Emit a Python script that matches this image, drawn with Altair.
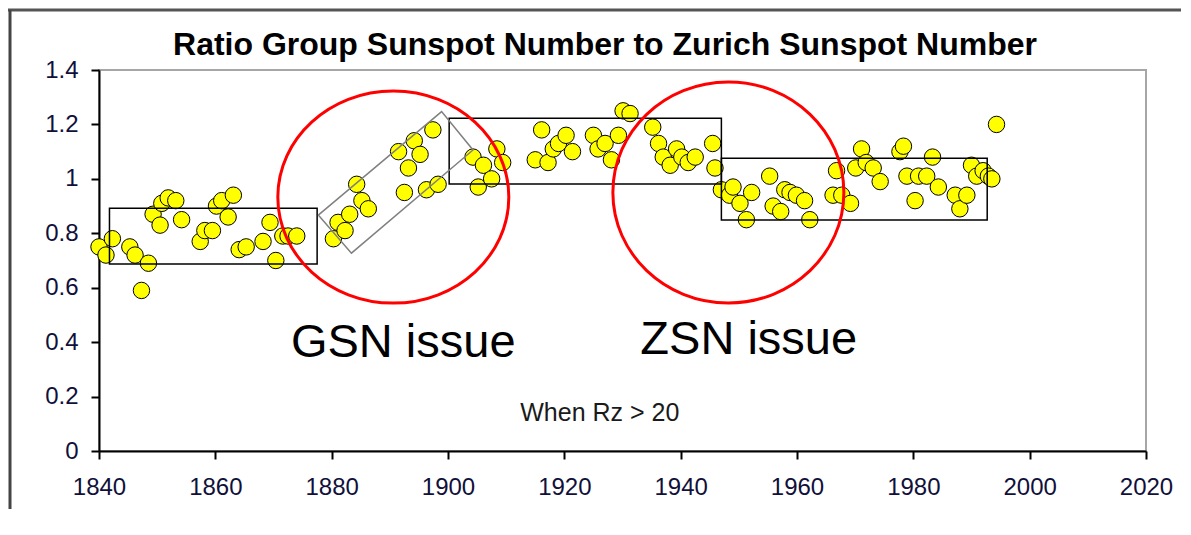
import altair as alt
import pandas as pd

# ---- data ----
years = [1840.0, 1841.2, 1842.3, 1845.3, 1846.2, 1847.3, 1848.5, 1849.3, 1850.5, 1850.8,
         1851.9, 1853.2, 1854.2, 1857.4, 1858.2, 1859.5, 1860.2, 1861.1, 1862.2, 1863.1,
         1864.1, 1865.3, 1868.2, 1869.4, 1870.4, 1871.6, 1872.5, 1874.0,
         1880.3, 1881.1, 1882.3, 1883.1, 1884.3, 1885.2, 1886.3,
         1891.5, 1892.5, 1893.2, 1894.2, 1895.2, 1896.3, 1897.4, 1898.3,
         1904.3, 1905.2, 1906.1, 1907.5, 1908.4, 1909.4,
         1915.0, 1916.1, 1917.2, 1918.1, 1919.0, 1920.3, 1921.4,
         1925.0, 1925.8, 1927.0, 1928.1, 1929.3, 1930.1, 1931.3,
         1935.2, 1936.2, 1937.0, 1938.2, 1939.3, 1940.2, 1941.3, 1942.5, 1945.5, 1945.9,
         1947.0, 1948.4, 1949.0, 1950.2, 1951.3, 1952.2,
         1955.3, 1955.9, 1957.2, 1957.9, 1958.8, 1959.9, 1961.3, 1962.2,
         1966.2, 1966.8, 1967.7, 1969.2, 1970.1, 1971.1, 1971.9, 1973.1, 1974.3,
         1977.7, 1978.3, 1978.9, 1980.3, 1980.9, 1982.3, 1983.3, 1984.3,
         1987.2, 1988.0, 1989.2, 1990.0, 1990.9, 1992.0, 1992.9, 1993.5, 1994.3]
ratios = [0.75, 0.72, 0.78, 0.75, 0.72, 0.59, 0.69, 0.87, 0.83, 0.91,
          0.93, 0.92, 0.85, 0.77, 0.81, 0.81, 0.90, 0.92, 0.86, 0.94,
          0.74, 0.75, 0.77, 0.84, 0.70, 0.79, 0.79, 0.79,
          0.78, 0.84, 0.81, 0.87, 0.98, 0.92, 0.89,
          1.10, 0.95, 1.04, 1.14, 1.09, 0.96, 1.18, 0.98,
          1.08, 0.97, 1.05, 1.00, 1.11, 1.06,
          1.07, 1.18, 1.06, 1.11, 1.13, 1.16, 1.10,
          1.16, 1.11, 1.13, 1.07, 1.16, 1.25, 1.24,
          1.19, 1.13, 1.08, 1.05, 1.11, 1.08, 1.06, 1.08, 1.13, 1.04,
          0.96, 0.94, 0.97, 0.91, 0.85, 0.95,
          1.01, 0.90, 0.88, 0.96, 0.95, 0.94, 0.92, 0.85,
          0.94, 1.03, 0.94, 0.91, 1.04, 1.11, 1.06, 1.04, 0.99,
          1.10, 1.12, 1.01, 0.92, 1.01, 1.01, 1.08, 0.97,
          0.94, 0.89, 0.94, 1.05, 1.01, 1.03, 1.01, 1.00, 1.20]

# boxes (data coordinates)
box_x1 = [1841.8, 1900.2, 1947.0]
box_x2 = [1877.5, 1947.0, 1992.7]
box_y1 = [0.687, 0.981, 0.849]
box_y2 = [0.892, 1.223, 1.076]

# tilted box corners (closed)
tilt_years = [1877.7, 1883.4, 1904.3, 1898.9, 1877.7]
tilt_values = [0.867, 0.727, 1.106, 1.247, 0.867]

# red circle centres
circle_years = [1890.6, 1948.2]
circle_values = [0.933, 0.950]

labels = ["GSN issue", "ZSN issue"]
label_years = [1892.3, 1951.7]
label_values = [0.346, 0.357]

note = ["When Rz > 20"]
note_year = [1926.1]
note_value = [0.111]

title_text = "Ratio Group Sunspot Number to Zurich Sunspot Number"
x_ticks = [1840, 1860, 1880, 1900, 1920, 1940, 1960, 1980, 2000, 2020]
y_ticks = [0, 0.2, 0.4, 0.6, 0.8, 1, 1.2, 1.4]

# ---- tables ----
pts = pd.DataFrame({"year": years, "value": ratios})
boxes = pd.DataFrame({"year": box_x1, "year2": box_x2, "value": box_y1, "value2": box_y2})
tilt = pd.DataFrame({"year": tilt_years, "value": tilt_values, "k": list(range(len(tilt_years)))})
circ1 = pd.DataFrame({"year": circle_years[:1], "value": circle_values[:1]})
circ2 = pd.DataFrame({"year": circle_years[1:], "value": circle_values[1:]})
lab = pd.DataFrame({"year": label_years, "value": label_values, "t": labels})
nt = pd.DataFrame({"year": note_year, "value": note_value, "t": note})

W, H = 1047, 381
FONT = "Liberation Sans, Arial"

x_scale = alt.Scale(domain=[1840, 2020], nice=False, zero=False)
y_scale = alt.Scale(domain=[0, 1.4], nice=False)
x_axis = alt.Axis(values=x_ticks, format="d", title=None, labelPadding=16, labelFlush=False)
y_axis = alt.Axis(values=y_ticks, format="~g", title=None, labelPadding=13, labelFlush=False)


def X(f="year"):
    return alt.X(f"{f}:Q", scale=x_scale, axis=x_axis)


def Y(f="value"):
    return alt.Y(f"{f}:Q", scale=y_scale, axis=y_axis)


points = alt.Chart(pts).mark_circle(
    color="#ffff00", stroke="#000000", strokeWidth=1, opacity=1, size=270
).encode(x=X(), y=Y())

rects = alt.Chart(boxes).mark_rect(
    filled=False, stroke="#000000", strokeWidth=1.5
).encode(x=X(), x2="year2:Q", y=Y(), y2="value2:Q")

tilted = alt.Chart(tilt).mark_line(color="#808080", strokeWidth=1.5).encode(
    x=X(), y=Y(), order="k:Q"
)

ell1 = "M -1 0 A 1 0.918 0 1 1 1 0 A 1 0.918 0 1 1 -1 0 Z"
ell2 = "M -1 0 A 1 0.957 0 1 1 1 0 A 1 0.957 0 1 1 -1 0 Z"
c1 = alt.Chart(circ1).mark_point(
    shape=ell1, size=231 * 231, filled=False, stroke="#ff0000", strokeWidth=3, opacity=1
).encode(x=X(), y=Y())
c2 = alt.Chart(circ2).mark_point(
    shape=ell2, size=231 * 231, filled=False, stroke="#ff0000", strokeWidth=3, opacity=1
).encode(x=X(), y=Y())

big_text = alt.Chart(lab).mark_text(
    font=FONT, fontSize=47, color="#000000", align="center", baseline="alphabetic"
).encode(x=X(), y=Y(), text="t:N")

note_text = alt.Chart(nt).mark_text(
    font=FONT, fontSize=25, color="#1a1a1a", align="center", baseline="alphabetic"
).encode(x=X(), y=Y(), text="t:N")

title = alt.Chart(pd.DataFrame({"t": [title_text]})).mark_text(
    font=FONT, fontSize=32, fontWeight="bold", color="#000000",
    align="center", baseline="alphabetic"
).encode(x=alt.value(506), y=alt.value(-15), text="t:N")

frame_top = alt.Chart(pd.DataFrame({"a": [0]})).mark_rule(color="#555555", strokeWidth=3).encode(
    x=alt.value(-91), x2=alt.value(1100), y=alt.value(-60)
)
frame_left = alt.Chart(pd.DataFrame({"a": [0]})).mark_rule(color="#444444", strokeWidth=3).encode(
    x=alt.value(-89), y=alt.value(-60), y2=alt.value(440)
)

chart = alt.layer(
    points, rects, tilted, c1, c2, big_text, note_text, title, frame_top, frame_left
).properties(
    width=W, height=H,
    autosize=alt.AutoSizeParams(type="none"),
    padding={"left": 91, "top": 62, "right": 35, "bottom": 58},
    background="#ffffff",
).configure_view(
    stroke="#a6a6a6", strokeWidth=2
).configure_axis(
    grid=False, domainColor="#000000", domainWidth=2, tickColor="#000000", tickWidth=2,
    tickSize=8, labelFont=FONT, labelFontSize=24, labelColor="#10103a"
)

chart.save("out.html", embed_options={"renderer": "svg", "actions": False})
